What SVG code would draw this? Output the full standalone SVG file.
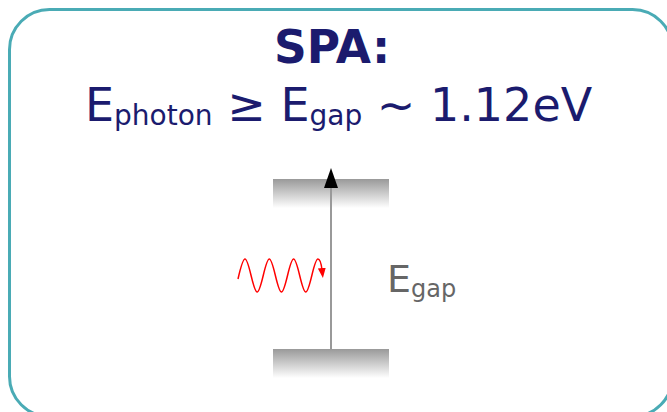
<svg xmlns="http://www.w3.org/2000/svg" width="667" height="412" viewBox="0 0 667 412">
<style>
.title{font-family:"DejaVu Sans",sans-serif;fill:#1b1b6e}
.lbl{font-family:"DejaVu Sans",sans-serif;fill:#666666}
</style>
<defs>
<linearGradient id="band" x1="0" y1="0" x2="0" y2="1">
<stop offset="0" stop-color="#999999"/>
<stop offset="1" stop-color="#ffffff"/>
</linearGradient>
<marker id="redhead" viewBox="0 0 10 8" refX="2" refY="4" markerWidth="10" markerHeight="8" markerUnits="userSpaceOnUse" orient="auto">
<path d="M0,0 L10,4 L0,8 Z" fill="#ff0000"/>
</marker>
</defs>
<rect x="9.5" y="9.5" width="663" height="407" rx="40" ry="40" fill="#ffffff" stroke="#4aabb5" stroke-width="3"/>
<g id="title">
<text class="title" x="332" y="63" font-size="45.5" font-weight="bold" text-anchor="middle">SPA:</text>
<text class="title" x="85" y="121" font-size="46">E<tspan font-size="28" dy="4">photon</tspan><tspan dy="-4"> ≥ E</tspan><tspan font-size="28" dy="4">gap</tspan><tspan dy="-4"> ~ 1.12eV</tspan></text>
</g>
<g id="valence-band">
<rect x="273" y="349" width="116" height="29" fill="url(#band)"/>
</g>
<g id="conduction-band">
<rect x="273" y="179" width="116" height="29" fill="url(#band)"/>
</g>
<g id="photon">
<path d="M238,279 C240.5,268 243,259 245,259 C249.25,259 252.9,292 257.15,292 S265.05,259 269.3,259 S277.2,292 281.45,292 S289.35,259 293.6,259 S301.5,292 305.75,292 S313.65,259 317.9,259 C320,259 321.3,264 322,270" fill="none" stroke="#ff0000" stroke-width="1.5" marker-end="url(#redhead)"/>
</g>
<g id="connectors">
<line x1="331" y1="349" x2="331" y2="187" stroke="#999999" stroke-width="2"/>
<path d="M331,168 L338,188 L324,188 Z" fill="#000000"/>
</g>
<g id="egap-label">
<text class="lbl" x="387" y="292" font-size="38">E<tspan font-size="24" dy="5">gap</tspan></text>
</g>
</svg>
